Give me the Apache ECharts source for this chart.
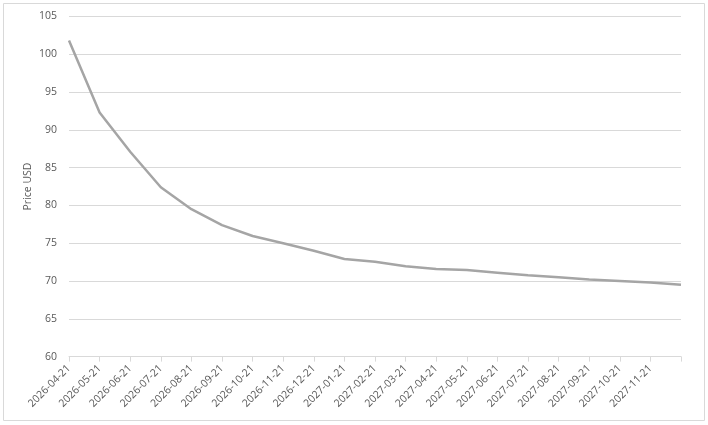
<!DOCTYPE html>
<html><head><meta charset="utf-8">
<script src="https://cdn.jsdelivr.net/npm/echarts@6/dist/echarts.min.js"></script>
<style>html,body{margin:0;padding:0;background:#fff}#c{width:708px;height:425px}</style>
</head><body><div id="c"></div>
<script>
const dates = ["2026-04-21","2026-05-21","2026-06-21","2026-07-21","2026-08-21","2026-09-21","2026-10-21","2026-11-21","2026-12-21","2027-01-21","2027-02-21","2027-03-21","2027-04-21","2027-05-21","2027-06-21","2027-07-21","2027-08-21","2027-09-21","2027-10-21","2027-11-21","2027-12-21"];
const prices = [101.8,92.3,87.1,82.4,79.5,77.4,75.95,75.0,74.0,72.9,72.55,71.95,71.6,71.45,71.1,70.75,70.5,70.2,70.0,69.8,69.5];
const yTitle = "Price USD";
const chart = echarts.init(document.getElementById('c'));
const font = "'Open Sans', 'DejaVu Sans', sans-serif";
chart.setOption({
  animation:false,
  graphic:[{type:'rect',shape:{x:3.5,y:3.5,width:701,height:417},style:{fill:'none',stroke:'#d9d9d9',lineWidth:1}}],
  grid:{left:69,right:27,top:16.4,bottom:68.4},
  xAxis:{type:'category',data:dates,boundaryGap:false,
    axisLine:{lineStyle:{color:'#d9d9d9'}},
    axisTick:{show:true,alignWithLabel:true,interval:0,length:5,lineStyle:{color:'#d9d9d9'}},
    axisLabel:{interval:0,rotate:45,color:'#595959',fontSize:10.5,fontFamily:font,margin:10,
      formatter:(v,i)=> i===dates.length-1 ? '' : v}},
  yAxis:{type:'value',min:60,max:105,interval:5,
    name:yTitle,nameLocation:'middle',nameGap:35,nameRotate:90,nameMoveOverlap:false,
    nameTextStyle:{color:'#595959',fontSize:10.5,fontFamily:font},
    axisLine:{show:false},axisTick:{show:false},
    axisLabel:{color:'#595959',fontSize:10.5,fontFamily:font,margin:12},
    splitLine:{lineStyle:{color:'#d9d9d9',width:1}}},
  series:[{type:'line',data:prices,symbol:'none',lineStyle:{color:'#a5a5a5',width:2.5}}]
});
</script></body></html>
